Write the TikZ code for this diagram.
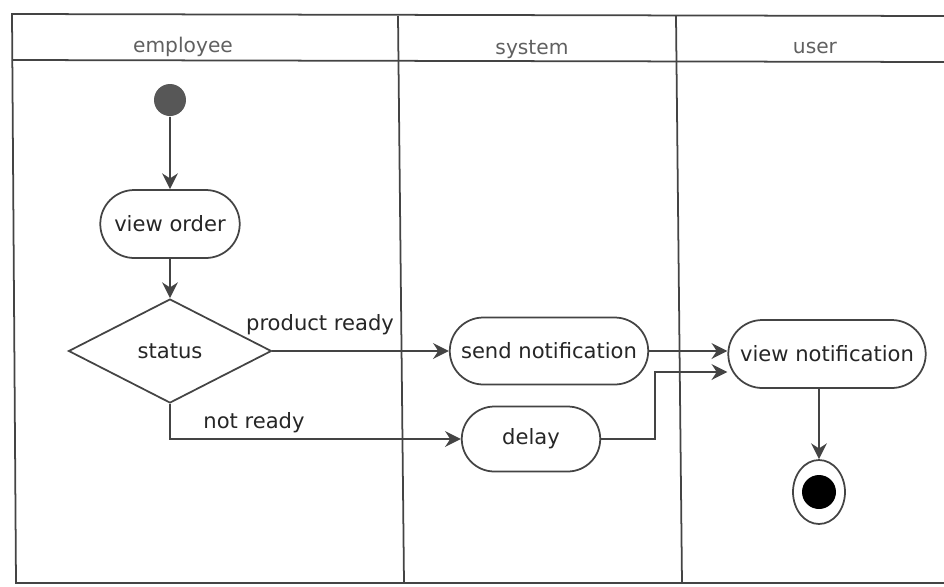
\documentclass[tikz,border=0pt]{standalone}
\usepackage{fontspec}
\setmainfont{DejaVu Sans}
\usetikzlibrary{positioning,calc,arrows.meta,shapes.geometric,shapes.misc}
\definecolor{ink}{HTML}{444444}
\tikzset{font=\fontsize{12}{14}\selectfont}

\begin{document}
\begin{tikzpicture}[x=0.02cm, y=-0.02cm, line width=1pt, draw=ink, >={Stealth[length=9pt,width=9pt]}]
	\useasboundingbox (0,0) rectangle (944,586);
	% swimlanes
	\draw[ink] (944,16) -- (12,14) -- (16,583) -- (944,583);
	\draw[ink] (12,60) -- (944,62);
	\draw[ink] (398,16) -- (404,583);
	\draw[ink] (676,16) -- (682,583);
	\tikzstyle{lanetitle}=[text=ink!85, font=\fontsize{11.5}{14}\selectfont]
	\node[lanetitle] (lane1) at (183,47) {employee};
	\node[lanetitle] (lane2) at (532,50) {system};
	\node[lanetitle] (lane3) at (815,48) {user};

	\begin{scope}
		\tikzstyle{every node}=[align=center, inner sep=1pt, text=black!85]
		\tikzstyle{activity}=[rounded rectangle, draw=ink, fill=white, line width=1pt]
		\node[circle, fill=ink!90, minimum size=0.64cm] (start) at (170,100) {};
		\node[activity, minimum width=2.86cm, minimum height=1.36cm] (view) at (170,224) {view order};
		\node[diamond, draw=ink, aspect=2, minimum width=4.06cm, minimum height=2.08cm] (status) at (170,351) {status};
		\node[activity, minimum width=4.04cm, minimum height=1.34cm] (send) at (549,351) {send notification};
		\node[activity, minimum width=2.84cm, minimum height=1.3cm] (delay) at (531,439) {delay};
		\node[activity, minimum width=4.02cm, minimum height=1.36cm] (viewnote) at (827,354) {view notification};
		\node[ellipse, draw=ink, minimum width=1.04cm, minimum height=1.28cm] (stop) at (819,492) {};
		\node[circle, fill=black, minimum size=0.68cm] (stopdot) at (stop.center) {};

		\draw[->, ink] (start) -- (view);
		\draw[->, ink] (view) -- (status);
		\draw[->, ink] (status.east) -- (status.east -| send.west);
		\draw[->, ink] (status.south) |- (delay.west);
		\draw[->, ink] (send.east) -- (send.east -| viewnote.west);
		\draw[->, ink] (delay.east) -- ++(54,0) |- ($(viewnote.west)+(0,18)$);
		\draw[->, ink] (stop |- viewnote.south) -- (stop);

		\node (lready) at (320,325) {product ready};
		\node (lnot) at (254,423) {not ready};
	\end{scope}
\end{tikzpicture}
\end{document}
